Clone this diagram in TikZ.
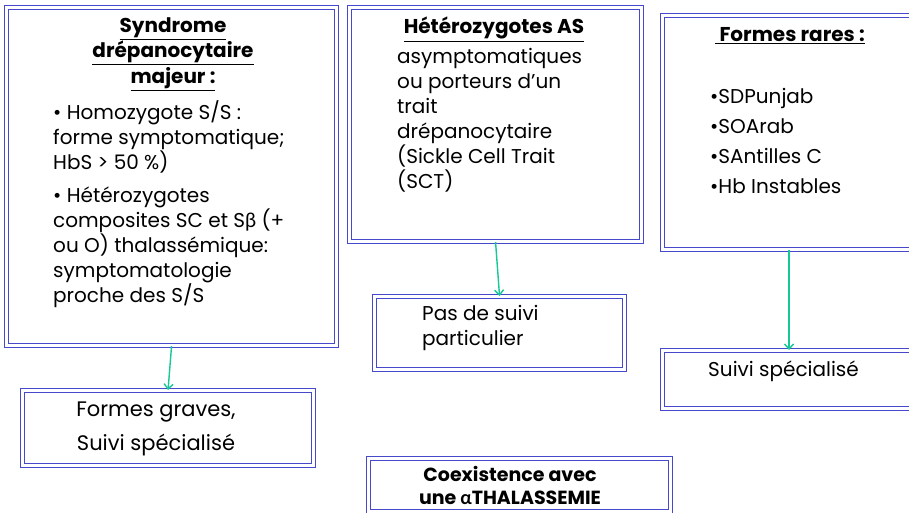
\documentclass[tikz,border=0pt]{standalone}
\usepackage{fontspec}
\setmainfont{Poppins}
\newfontfamily\grk{Lato}
\usetikzlibrary{arrows.meta}
\definecolor{boxblue}{RGB}{72,72,205}
\definecolor{flowgreen}{RGB}{22,200,150}

\begin{document}
\begin{tikzpicture}[x=1pt,y=-1pt,
  box/.style={draw=boxblue,line width=1.1pt,double=white,double distance=2.2pt,
    inner sep=0pt,anchor=north west},
  txt/.style={inner sep=0pt,align=left,font=\fontsize{20}{25}\selectfont},
  head/.style={inner sep=0pt,align=center,font=\fontsize{20}{25.5}\selectfont\bfseries},
  flow/.style={draw=flowgreen,line width=1.4pt,-{Straight Barb[length=5pt,width=9pt]}}]
\useasboundingbox (0,0) rectangle (909,512);
% boxes
\node[box,minimum width=330,minimum height=338] (sdm) at (6,7) {};
\node[box,minimum width=292,minimum height=234] (het) at (349,7) {};
\node[box,minimum width=253,minimum height=234] (rares) at (662,15) {};
\node[box,minimum width=250,minimum height=73] (pas) at (374,296) {};
\node[box,minimum width=291,minimum height=75] (graves) at (22,390) {};
\node[box,minimum width=253,minimum height=58] (suivi) at (662,350) {};
\node[box,minimum width=302,minimum height=53] (coex) at (368,458) {};
% texts
\node[head,anchor=north] (sdmtitle) at (173,17)
  {\underline{Syndrome}\\\underline{drépanocytaire}\\\underline{majeur :}};
\node[txt,anchor=north west] (sdmbody) at (53,100)
  {• Homozygote S/S :\\forme symptomatique;\\HbS > 50 \%)\\[8pt]
   • Hétérozygotes\\composites SC et S{\grk β} (+\\ou O) thalassémique:\\symptomatologie\\proche des S/S};
\node[head,anchor=north] (hettitle) at (494,17) {\underline{Hétérozygotes AS}};
\node[txt,anchor=north west] (hetbody) at (397,48)
  {asymptomatiques\\ou porteurs d’un\\trait\\drépanocytaire\\(Sickle Cell Trait\\(SCT)};
\node[head,anchor=north] (rarestitle) at (790,27) {\underline{ Formes rares :}};
\node[txt,anchor=north west,font=\fontsize{20}{30}\selectfont] (raresbody) at (710,88)
  {•SDPunjab\\•SOArab\\•SAntilles C\\•Hb Instables};
\node[txt,anchor=north west] (pastext) at (422,305) {Pas de suivi\\particulier};
\node[txt,anchor=north west] (suivitext) at (708,361) {Suivi spécialisé};
\node[txt,anchor=north,align=center,font=\fontsize{21}{34}\selectfont] (gravestext) at (156,402)
  {Formes graves,\\ Suivi spécialisé};
\node[head,anchor=north,font=\fontsize{19}{23}\selectfont\bfseries] (coextext) at (510,466)
  {Coexistence avec\\une {\grk α}THALASSEMIE};
% arrows
\draw[flow] (sdm.south) -- (graves.north);
\draw[flow] (het.south) -- (pas.north);
\draw[flow] (rares.south) -- (suivi.north);
\end{tikzpicture}
\end{document}
